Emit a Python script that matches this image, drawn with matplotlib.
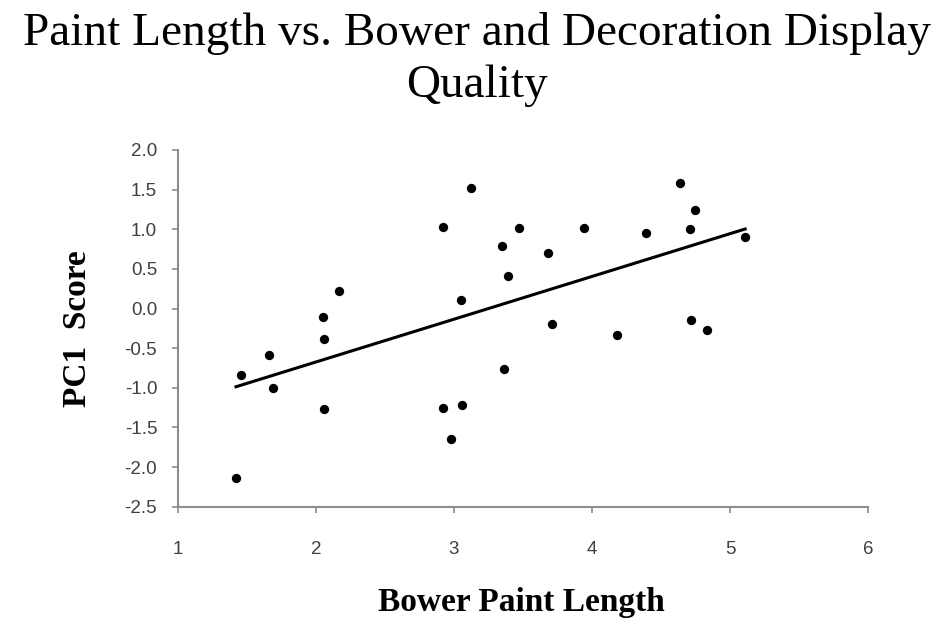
import numpy as np
import matplotlib.pyplot as plt

# bower paint length (x) and PC1 score (y)
paint_length = [1.42, 1.46, 1.66, 1.69, 2.05, 2.06, 2.06, 2.17, 2.92, 2.92,
                2.98, 3.05, 3.06, 3.12, 3.35, 3.39, 3.36, 3.47, 3.68, 3.71,
                3.94, 4.18, 4.39, 4.64, 4.75, 4.71, 4.72, 4.83, 5.11]
pc1_score = [-2.14, -0.84, -0.58, -1.00, -0.11, -0.39, -1.27, 0.22, 1.03, -1.26,
             -1.65, 0.11, -1.22, 1.52, 0.79, 0.41, -0.76, 1.02, 0.70, -0.19,
             1.02, -0.33, 0.95, 1.58, 1.24, 1.00, -0.15, -0.27, 0.90]
x_ticks = [1, 2, 3, 4, 5, 6]
y_ticks = [-2.5, -2.0, -1.5, -1.0, -0.5, 0.0, 0.5, 1.0, 1.5, 2.0]

x = np.array(paint_length)
y = np.array(pc1_score)

fig = plt.figure(figsize=(9.53, 6.2), dpi=100)
ax = fig.add_axes([0.1868, 0.1827, 0.724, 0.5754])

ax.scatter(x, y, s=45, color='black', zorder=3, linewidths=0)

# linear trendline
m, b = np.polyfit(x, y, 1)
xs = np.array([x.min(), x.max()])
ax.plot(xs, m * xs + b, color='black', lw=2.2)

ax.set_xlim(1, 6)
ax.set_ylim(-2.5, 2.0)
ax.set_xticks(x_ticks)
ax.set_yticks(y_ticks)
ax.set_yticklabels([f'{v:.1f}' for v in y_ticks])

for s in ['top', 'right']:
    ax.spines[s].set_visible(False)
for s in ['left', 'bottom']:
    ax.spines[s].set_color('#8c8c8c')
    ax.spines[s].set_linewidth(1.5)

ax.tick_params(axis='both', colors='#8c8c8c', length=4, width=1.2,
               labelcolor='#404040', labelsize=13.5)
ax.tick_params(axis='y', pad=11)
ax.tick_params(axis='x', pad=21)
for lab in ax.get_xticklabels() + ax.get_yticklabels():
    lab.set_fontfamily('Liberation Sans')

fig.text(0.5, 1 - 12 / 620, 'Paint Length vs. Bower and Decoration Display\nQuality',
         ha='center', va='top', fontsize=34, family='Liberation Serif',
         linespacing=1.3)
fig.text(0.547, 1 - 602 / 620, 'Bower Paint Length', ha='center', va='center',
         fontsize=24, fontweight='bold', family='Liberation Serif')
fig.text(78 / 953, 1 - 329 / 620, 'PC1  Score', ha='center', va='center',
         rotation=90, fontsize=24, fontweight='bold', family='Liberation Serif')

plt.savefig('out.png', dpi=100)
